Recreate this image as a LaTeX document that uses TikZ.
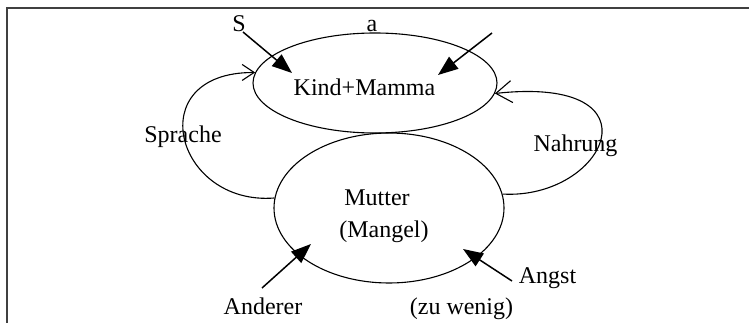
\documentclass[tikz,border=0pt]{standalone}
\usepackage{fontspec}
\setmainfont{Liberation Serif}
\usetikzlibrary{shapes.geometric,arrows.meta}
\definecolor{framegray}{HTML}{404040}
\tikzset{
  bubble/.style={draw, ellipse, inner sep=0pt, line width=1.1pt},
  lbl/.style={anchor=base, inner sep=0pt, font=\fontsize{24}{28}\selectfont},
  push/.style={line width=1.5pt, -{Triangle[length=20pt,width=15pt]}},
  loopline/.style={line width=1.1pt},
}
\begin{document}
\begin{tikzpicture}[x=1pt,y=-1pt]
\useasboundingbox (0,0) rectangle (749,323);
\draw[framegray, line width=2pt] (7,330) -- (7,8.5) -- (760,8.5);
% ellipses
\node[bubble, minimum width=244pt, minimum height=100pt] (km) at (375,83) {};
\node[bubble, minimum width=230pt, minimum height=150pt] (mu) at (389,208) {};
% texts
\node[lbl] (tkm) at (364.5,96) {Kind+Mamma};
\node[lbl] (tmu) at (377,205) {Mutter};
\node[lbl] (tma) at (384,237) {(Mangel)};
\node[lbl] (tS) at (239,32) {S};
\node[lbl] (ta) at (372,32) {a};
\node[lbl] (tsp) at (183,143) {Sprache};
\node[lbl] (tna) at (575.5,152) {Nahrung};
\node[lbl] (tan) at (263,314) {Anderer};
\node[lbl] (tag) at (547.5,283) {Angst};
\node[lbl] (tzw) at (461.5,314) {(zu wenig)};
% arrow endpoints
\coordinate (s1) at (243,32);
\coordinate (s2) at (292,73);
\coordinate (a1) at (492,33);
\coordinate (a2) at (438,75);
\coordinate (n1) at (262,288);
\coordinate (n2) at (311,244);
\coordinate (g1) at (512,281);
\coordinate (g2) at (463,249);
\draw[push] (s1) -- (s2);
\draw[push] (a1) -- (a2);
\draw[push] (n1) -- (n2);
\draw[push] (g1) -- (g2);
% loops
\draw[loopline, -{Straight Barb[length=12pt,width=16pt,line width=1.1pt]}]
  (mu.175) .. controls (175,206) and (140,72) .. (km.175);
\draw[loopline, -{Straight Barb[length=16pt,width=22pt,line width=1.1pt]}]
  (mu.7) .. controls (605,200) and (665,75) .. (km.-5);
\end{tikzpicture}
\end{document}
